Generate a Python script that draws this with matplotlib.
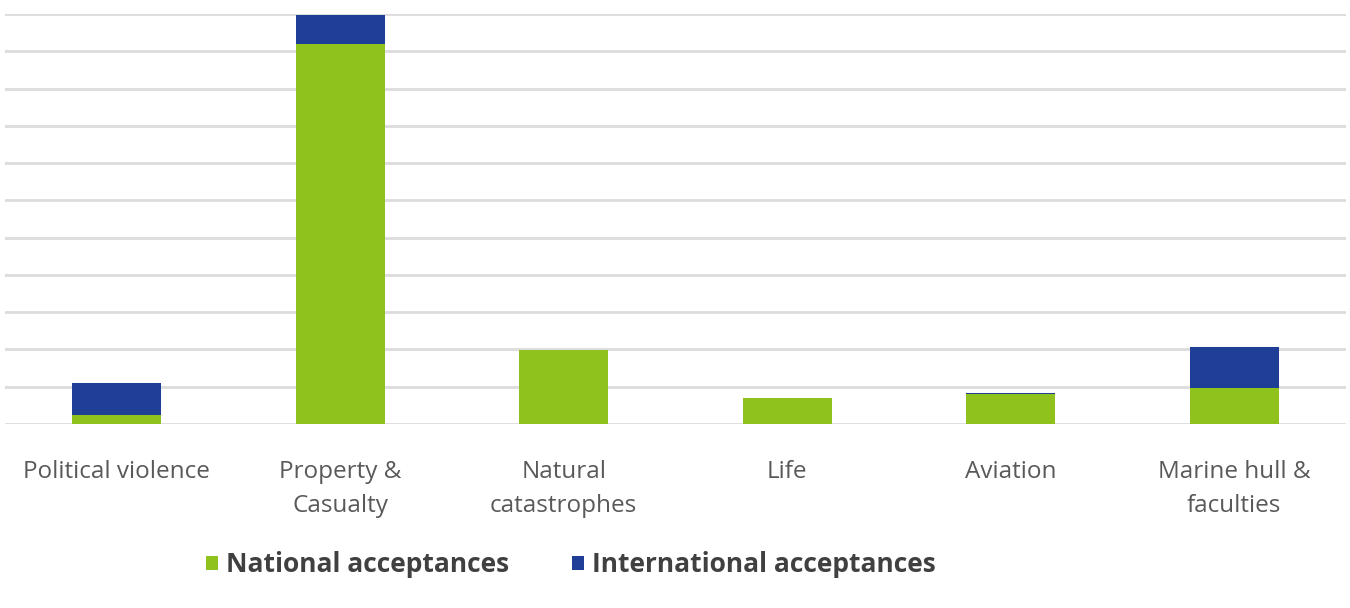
import matplotlib.pyplot as plt
import numpy as np

categories = ["Political violence", "Property &\nCasualty", "Natural\ncatastrophes",
              "Life", "Aviation", "Marine hull &\nfaculties"]
national = [0.24, 10.2, 1.98, 0.71, 0.80, 0.96]
international = [0.86, 0.76, 0.0, 0.0, 0.04, 1.11]

green = "#8fc21c"
blue = "#1f3f97"

plt.rcParams['font.family'] = ['Open Sans', 'DejaVu Sans']

fig = plt.figure(figsize=(13.5, 6.08), dpi=100)
ax = fig.add_axes([0.0037, 0.3026, 0.9933, 0.6744])

x = np.arange(len(categories))
ax.bar(x, national, width=0.4, color=green, label="National acceptances", zorder=3)
ax.bar(x, international, width=0.4, bottom=national, color=blue,
       label="International acceptances", zorder=3)

ax.set_xlim(-0.5, len(categories) - 0.5)
ax.set_ylim(0, 11)
ax.set_yticks(np.arange(0, 12, 1))
ax.yaxis.grid(True, color="#dcdcdc", linewidth=2)
ax.set_axisbelow(True)
ax.tick_params(axis='y', length=0, labelleft=False)
ax.tick_params(axis='x', length=0, pad=26, labelsize=17.5, colors="#595959")
ax.set_xticks(x)
ax.set_xticklabels(categories, linespacing=1.55)
for s in ax.spines.values():
    s.set_visible(False)

leg = fig.legend(loc="center", bbox_to_anchor=(0.423, 0.071), ncol=2, frameon=False,
                 handlelength=0.45, handleheight=0.45, handletextpad=0.3, columnspacing=2.4,
                 prop={'weight': 'bold', 'size': 19})
for t in leg.get_texts():
    t.set_color("#404040")

fig.savefig("out.png", dpi=100)
